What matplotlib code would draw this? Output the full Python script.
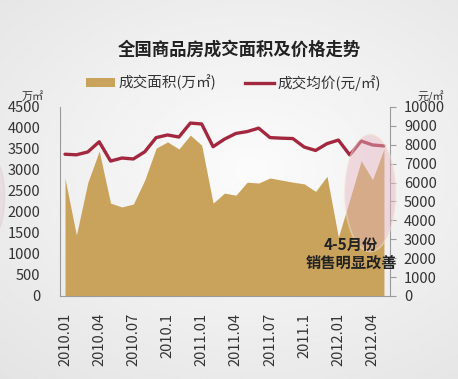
import numpy as np
import matplotlib
matplotlib.use('Agg')
import matplotlib.pyplot as plt
from matplotlib.patches import Ellipse, Patch
from matplotlib.lines import Line2D

plt.rcParams['font.family'] = ['Noto Sans CJK SC', 'DejaVu Sans']

# 2010.01 ... 2012.05, monthly
meses = ['2010.01', '2010.02', '2010.03', '2010.04', '2010.05', '2010.06',
         '2010.07', '2010.08', '2010.09', '2010.1', '2010.11', '2010.12',
         '2011.01', '2011.02', '2011.03', '2011.04', '2011.05', '2011.06',
         '2011.07', '2011.08', '2011.09', '2011.1', '2011.11', '2011.12',
         '2012.01', '2012.02', '2012.03', '2012.04', '2012.05']

# 成交面积 (万㎡)
area = [2800, 1450, 2700, 3450, 2210, 2120, 2190, 2760, 3520, 3670,
        3500, 3830, 3590, 2210, 2450, 2400, 2710, 2690, 2810, 2760,
        2710, 2670, 2490, 2850, 1400, 2300, 3220, 2770, 3500]

# 成交均价 (元/㎡)
preco = [7500, 7470, 7620, 8160, 7140, 7300, 7250, 7630, 8380, 8520,
         8410, 9150, 9100, 7900, 8300, 8600, 8700, 8880, 8380, 8350,
         8330, 7880, 7700, 8060, 8250, 7460, 8200, 7990, 7940]

ticks_idx = [0, 3, 6, 9, 12, 15, 18, 21, 24, 27]

cor_area = '#c9a35b'
cor_linha = '#a3283f'
cor_eixo = '#9a9a9a'
cor_texto = '#333333'

fig = plt.figure(figsize=(4.58, 3.79), dpi=100)

# fundo com gradiente suave
bg = fig.add_axes([0, 0, 1, 1])
yy, xx = np.mgrid[0:1:200j, 0:1:240j]
r = np.sqrt(((xx - 0.55) / 0.9) ** 2 + ((yy - 0.45) / 0.8) ** 2)
bg.imshow(0.985 - 0.10 * np.clip(r, 0, 1), cmap='gray', vmin=0, vmax=1,
          extent=[0, 1, 0, 1], aspect='auto')
bg.add_patch(Ellipse((-0.015, 0.48), 0.05, 0.2, color='#dcc4ca', alpha=0.35))
bg.axis('off')

x = np.arange(len(meses))

ax = fig.add_axes([0.131, 0.219, 0.7205, 0.4987])
ax.patch.set_alpha(0)
ax.fill_between(x, area, 0, color=cor_area, lw=0, zorder=2)
ax.set_xlim(-0.44, 28.53)
ax.set_ylim(0, 4500)
ax.set_yticks(range(0, 4501, 500))
ax.set_xticks(ticks_idx)
ax.set_xticklabels([meses[i] for i in ticks_idx], rotation=90, fontsize=10.5,
                   color=cor_texto)
ax.tick_params(axis='y', length=0, labelsize=10.5, labelcolor=cor_texto, pad=14)
ax.tick_params(axis='x', length=0, pad=12)
for s in ['top', 'right']:
    ax.spines[s].set_visible(False)
for s in ['left', 'bottom']:
    ax.spines[s].set_color(cor_eixo)

ax2 = ax.twinx()
ax2.plot(x, preco, color=cor_linha, lw=2.4, solid_joinstyle='round',
         solid_capstyle='round', zorder=3)
ax2.set_ylim(0, 10000)
ax2.set_yticks(range(0, 10001, 1000))
ax2.tick_params(axis='y', length=4, color=cor_eixo, labelsize=10.5,
                labelcolor=cor_texto, pad=6)
for s in ['top', 'left', 'bottom']:
    ax2.spines[s].set_visible(False)
ax2.spines['right'].set_color(cor_eixo)

# destaque 4-5月份
ax2.add_patch(Ellipse((26.8, 5450), 4.5, 6200, facecolor='#e6b5c4',
                      alpha=0.45, edgecolor='#f3ead0', lw=1.2, zorder=4,
                      clip_on=False))
ax2.text(25.1, 2250, '4-5月份\n销售明显改善', ha='center', va='center',
         fontsize=11, fontweight='bold', color='#222222', linespacing=1.15,
         zorder=5)

fig.text(0.522, 0.87, '全国商品房成交面积及价格走势', ha='center', va='center',
         fontsize=12.5, fontweight='bold', color='#222222')

handles = [Patch(facecolor=cor_area, edgecolor='none'),
           Line2D([0], [0], color=cor_linha, lw=2.4)]
fig.legend(handles, ['成交面积(万㎡)', '成交均价(元/㎡)'], loc='center',
           bbox_to_anchor=(0.51, 0.782), ncol=2, frameon=False, fontsize=10.5,
           handlelength=2.0, handleheight=0.6, columnspacing=2.0,
           handletextpad=0.2, labelcolor=cor_texto)

fig.text(0.072, 0.745, '万㎡', ha='center', va='center', fontsize=8,
         color=cor_texto)
fig.text(0.94, 0.745, '元/㎡', ha='center', va='center', fontsize=8,
         color=cor_texto)

fig.savefig('out.png', dpi=100)
